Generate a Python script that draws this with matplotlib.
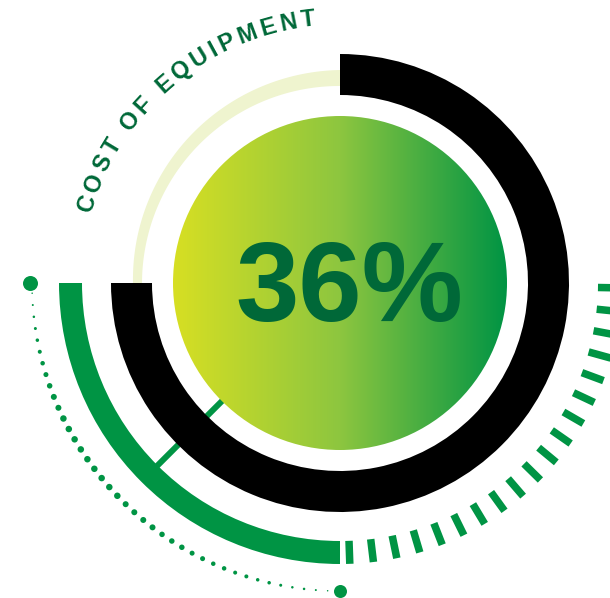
import numpy as np
import matplotlib
matplotlib.use("Agg")
import matplotlib.pyplot as plt
from matplotlib.patches import Wedge, Circle, Polygon
from matplotlib.colors import LinearSegmentedColormap
from matplotlib.font_manager import FontProperties, findfont
from matplotlib.ft2font import FT2Font

# ---------------- data ----------------
title_label = "COST OF EQUIPMENT"
value_pct = 36
value_label = f"{value_pct}%"
black_ring_span = [-180, 90]     # degrees (counter-clockwise from +x)
pale_ring_span = [90, 180]
green_arc_span = [180, 270]
tick_span = [272, 359]
tick_count = 19
dot_span = [181.9, 267.7]
dot_diam = [1.5, 2, 2.5, 3, 3.5, 4, 4.5, 5, 5.5, 6, 6, 6.5, 6.5, 6.5, 6.5, 6.5, 6.5, 6.5, 6.5, 6.5,
            6, 6, 6, 6, 5.5, 5.5, 5.5, 5, 5, 4.5, 4.5, 4, 4, 3.5, 3.5, 3, 2.5, 2.5, 2, 1.5]

# ---------------- colours ----------------
C_GREEN = "#009444"
C_DARK = "#006838"
C_PALE = "#eff4cf"
grad_cmap = LinearSegmentedColormap.from_list("g", ["#d7df23", "#8dc63f", "#009444"])

W, H = 610, 598
fig = plt.figure(figsize=(W / 100, H / 100), dpi=100)
ax = fig.add_axes([0, 0, 1, 1])
ax.set_xlim(0, W)
ax.set_ylim(0, H)
ax.axis("off")

cx, cy = 340, H - 283
PX = 72 / 100  # px -> pt


def pol(r, a):
    t = np.radians(a)
    return cx + r * np.cos(t), cy + r * np.sin(t)


# pale ring (slightly tapered)
angs = np.linspace(pale_ring_span[0], pale_ring_span[1], 120)
r_out = np.interp(angs, [90, 180], [213, 207])
r_in = np.interp(angs, [90, 180], [197, 198])
outer = [pol(r, a) for r, a in zip(r_out, angs)]
inner = [pol(r, a) for r, a in zip(r_in[::-1], angs[::-1])]
ax.add_patch(Polygon(outer + inner, closed=True, color=C_PALE, lw=0, zorder=1))

# green thick arc
ax.add_patch(Wedge((cx, cy), 281, green_arc_span[0], green_arc_span[1], width=23,
                   color=C_GREEN, lw=0, zorder=2))

# radial thin line
x1, y1 = pol(160, 225)
x2, y2 = pol(262, 225)
ax.plot([x1, x2], [y1, y2], color=C_GREEN, lw=6 * PX, solid_capstyle="butt", zorder=2)

# ticks
for a in np.linspace(tick_span[0], tick_span[1], tick_count):
    xa, ya = pol(258, a)
    xb, yb = pol(281, a)
    ax.plot([xa, xb], [ya, yb], color=C_GREEN, lw=7.5 * PX, solid_capstyle="butt", zorder=2)

# dotted arc
dot_angles = np.linspace(dot_span[0], dot_span[1], len(dot_diam))
dx, dy = pol(308, dot_angles)
ax.scatter(dx, dy, s=(np.array(dot_diam) * PX) ** 2, color=C_GREEN, lw=0, zorder=2)
bx, by = pol(310, 180)
ax.scatter([bx], [by], s=(15 * PX) ** 2, color=C_GREEN, lw=0, zorder=2)
bx, by = pol(308, 270)
ax.scatter([bx], [by], s=(13 * PX) ** 2, color=C_GREEN, lw=0, zorder=2)

# black ring
ax.add_patch(Wedge((cx, cy), 229, black_ring_span[0], black_ring_span[1], width=41,
                   color="black", lw=0, zorder=3))

# gradient disc
R = 167
circ = Circle((cx, cy), R, transform=ax.transData, facecolor="none", edgecolor="none")
ax.add_patch(circ)
grad = np.linspace(0, 1, 512).reshape(1, -1)
im = ax.imshow(grad, cmap=grad_cmap, extent=[cx - R, cx + R, cy - R, cy + R],
               aspect="auto", interpolation="bilinear", zorder=4)
im.set_clip_path(circ)
ax.set_xlim(0, W)
ax.set_ylim(0, H)

# big value
ax.text(349, H - 321, value_label, fontsize=82, fontweight="bold",
        family=["Liberation Sans", "DejaVu Sans"], color=C_DARK,
        ha="center", va="baseline", zorder=5)

# curved title
fsize = 17
fp = FontProperties(family="Liberation Sans", weight="bold", size=fsize)
font = FT2Font(findfont(fp))
font.set_size(fsize, 100)
adv = []
for ch in title_label:
    g = font.load_char(ord(ch))
    adv.append(g.linearHoriAdvance / 65536.0)
adv = np.array(adv)
r_txt = 265
a_start, a_end = 162.5, 97.0
arc_len = np.radians(a_start - a_end) * r_txt
base = np.sum((adv[:-1] + adv[1:]) / 2)
track = (arc_len - base) / (len(title_label) - 1)
s = 0.0
for i, ch in enumerate(title_label):
    if i > 0:
        s += (adv[i - 1] + adv[i]) / 2 + track
    a = a_start - np.degrees(s / r_txt)
    if ch == " ":
        continue
    x, y = pol(r_txt, a)
    ax.text(x, y, ch, fontproperties=fp, color=C_DARK, rotation=a - 90,
            rotation_mode="anchor", ha="center", va="center", zorder=5)

fig.savefig("out.png", dpi=100)
